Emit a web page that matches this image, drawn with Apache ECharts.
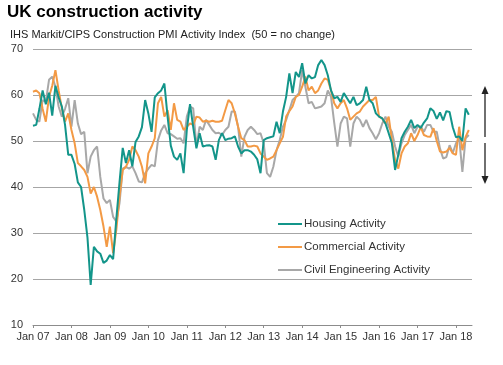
<!DOCTYPE html>
<html>
<head>
<meta charset="utf-8">
<script src="https://cdn.jsdelivr.net/npm/echarts@6/dist/echarts.min.js"></script>
<style>
html,body{margin:0;padding:0;background:#fff;}
#chart{width:503px;height:365px;}
</style>
</head>
<body>
<div id="chart"></div>
<script>
// Years shown on the axis (one tick label each January)
const years = ['07','08','09','10','11','12','13','14','15','16','17','18'];
const monthNames = ['Jan','Feb','Mar','Apr','May','Jun','Jul','Aug','Sep','Oct','Nov','Dec'];
// Monthly categories Jan 07 .. Jun 18
const categories = [];
years.forEach(function (y, yi) {
  monthNames.forEach(function (m, mi) {
    if (yi < years.length - 1 || mi < 6) categories.push(m + ' ' + y);
  });
});

const housing = [
  53.3,53.5,57,61,58,60.5,55.5,62,59.5,57.5,53.5,47,
  47,45,41,40,35,29,18.7,27,26,25.5,23.5,24,
  25.2,24.3,33,41,48.5,45.2,48,44.5,49.8,51,53,58.9,
  56,52,59.5,60.4,61,62.5,55.3,49,46.6,45.9,47.3,43,
  52.4,58,53,48.4,51.7,48.8,49,49.1,48.8,45.9,50.2,51.7,
  50.2,50.5,50.6,51,48.8,47.3,48,48,47.7,47,46,43,
  50.2,50.6,50.8,51,54.2,51.7,56.4,59.6,64.7,60.4,65,63.9,
  66.9,62.5,64.3,63.6,63.9,66.5,67.6,66.5,64.3,61,59.3,59.6,
  58.5,60.4,59.3,58.2,59.6,57.8,58.2,58.9,61.8,58.9,58.2,56,
  55.3,54.9,53.8,51.7,49.5,43.7,47,50.6,52,53.1,54.6,52.8,
  53.5,52.8,54,54.9,57.1,56.5,54.8,56.2,54.5,56.5,56.3,53,
  50.8,51,50,57.1,55.7
];
const commercial = [
  60.7,61,60.4,57,54.2,59.6,62,65.4,61,57.1,54.2,56,
  52.4,49.5,45.2,44.5,43.7,42.2,38.6,40,37.9,35,31.4,27,
  31.4,25.6,30.7,37.9,43.7,44.4,45.9,48.8,48,46.6,44.4,40.8,
  47.3,48.8,50.6,58.2,59.6,55.3,56.7,52.4,58.2,54.6,54.2,52.4,
  53.1,53.8,53.5,55.3,55.1,54.2,54.4,54.2,54.4,54.2,54.2,54.4,
  56.7,58.9,58.2,56,53.1,50.6,50.2,48.8,48.8,49,48.8,47.3,
  46.6,45.9,46.2,46.6,48,49.5,50.9,55.3,56.5,57.5,59.6,60,
  61.8,64,61,61.8,60.4,61,62.5,63.6,63.3,61,58.2,57.1,
  58.2,58.9,57.1,54.6,55.3,56,56.4,57.5,58.2,58.9,58.9,59.6,
  55.3,54.9,53.8,55.3,50.2,45.9,44,47.3,48.8,49.5,51.7,50,
  51.3,53,51.3,51,50.9,52.8,50,47.7,47.5,47.7,48.5,47.3,
  47,53.1,48,50.9,52.4
];
const civil = [
  56,54.6,54.2,58.9,58.5,63.3,64,61.8,57.5,55.3,57,59.3,
  53.1,58.9,53.8,51.5,52,43,46.6,48,48.8,42.2,37.5,36.5,
  37.2,33.5,32.5,36.5,44,44.4,44,44.5,43,41.2,41,43,
  44,44.8,44.5,50.2,52.3,53.5,51.7,51.5,51,50.5,50.6,49.5,
  55.3,57.5,57.1,48.8,53.1,52.4,54.6,53.5,52.4,51.7,51.8,51.3,
  52.4,53.1,56.4,56.4,53.1,46.6,50.9,52.4,53.1,52.4,51.5,51.7,
  49.5,43,42.2,44.4,48,50.2,53.1,54.6,56.7,58.9,59.6,60.4,
  65.4,61.8,58.2,58.5,57.1,57.3,57.5,58.2,61,59.6,54,48.8,
  53.8,55.3,54.9,48.8,53.8,55.3,54.6,53.1,54.6,52.8,51.7,50.4,
  51.7,53.8,55.3,53.1,52,48.8,46.6,49.5,51.3,52.4,53.5,51.7,
  53.1,53.2,52,53.5,53.5,52,52,48.4,46.2,46.5,49.1,47.4,
  49.5,50.6,43.3,50.6,51.3
];
const yTicks = [10, 70, 10]; // min, max, interval

const seriesNames = ['Housing Activity', 'Commercial Activity', 'Civil Engineering Activity'];
const seriesColors = ['#13958a', '#f39a45', '#a8a8a8'];
const seriesData = [housing, commercial, civil];

const chart = echarts.init(document.getElementById('chart'), null, {renderer: 'canvas'});
const FONT = 'Liberation Sans, Arial, sans-serif';

chart.setOption({
  animation: false,
  backgroundColor: '#ffffff',
  title: [{
    text: 'UK construction activity',
    left: 7, top: 4, padding: 0,
    textStyle: {fontFamily: FONT, fontSize: 17, fontWeight: 'bold', color: '#000'}
  }, {
    text: 'IHS Markit/CIPS Construction PMI Activity Index  (50 = no change)',
    left: 10, top: 29, padding: 0,
    textStyle: {fontFamily: FONT, fontSize: 11, fontWeight: 'normal', color: '#222'}
  }],
  grid: {left: 33, right: 31, top: 49, bottom: 40, containLabel: false},
  legend: {
    orient: 'vertical',
    left: 278, top: 218, padding: 0,
    itemWidth: 24, itemHeight: 2,
    itemGap: 11,
    icon: 'rect',
    textStyle: {fontFamily: FONT, fontSize: 11.5, color: '#333', padding: [0, 0, 0, -3]},
    data: seriesNames
  },
  xAxis: {
    type: 'category',
    data: categories,
    boundaryGap: false,
    axisLine: {lineStyle: {color: '#8c8c8c', width: 1}},
    axisTick: {show: true, length: 3, interval: function (i) { return i % 12 === 0; }, lineStyle: {color: '#8c8c8c'}},
    axisLabel: {
      interval: function (i) { return i % 12 === 0; },
      fontFamily: FONT, fontSize: 11, color: '#333', margin: 6
    },
    splitLine: {show: false}
  },
  yAxis: {
    type: 'value',
    min: yTicks[0], max: yTicks[1], interval: yTicks[2],
    axisLine: {show: false},
    axisTick: {show: false},
    axisLabel: {fontFamily: FONT, fontSize: 11, color: '#333', margin: 10},
    splitLine: {lineStyle: {color: '#a6a6a6', width: 1}}
  },
  series: seriesNames.map(function (n, i) {
    return {
      name: n,
      type: 'line',
      data: seriesData[i],
      showSymbol: false,
      symbol: 'none',
      lineStyle: {color: seriesColors[i], width: 2},
      itemStyle: {color: seriesColors[i]},
      z: 3 - i
    };
  }),
  graphic: [
    {type: 'line', shape: {x1: 485, y1: 92, x2: 485, y2: 137}, style: {stroke: '#222', lineWidth: 1.3}},
    {type: 'polygon', shape: {points: [[485, 86], [481.5, 94], [488.5, 94]]}, style: {fill: '#222'}},
    {type: 'line', shape: {x1: 485, y1: 143, x2: 485, y2: 178}, style: {stroke: '#222', lineWidth: 1.3}},
    {type: 'polygon', shape: {points: [[485, 184], [481.5, 176], [488.5, 176]]}, style: {fill: '#222'}}
  ]
});
</script>
</body>
</html>
